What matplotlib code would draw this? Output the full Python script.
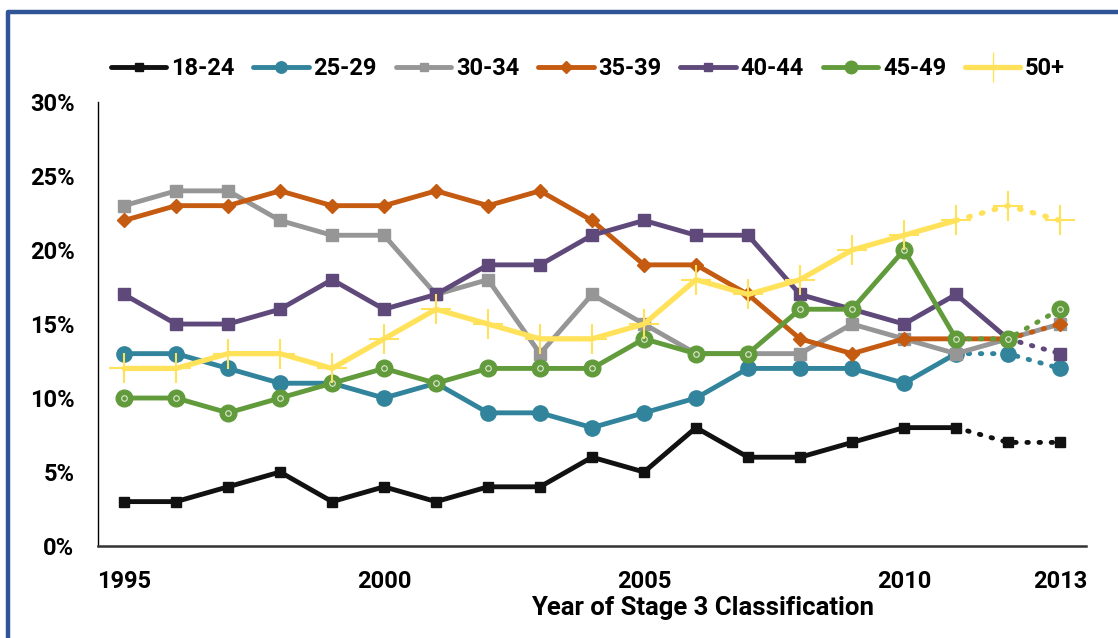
import matplotlib.pyplot as plt
from matplotlib.lines import Line2D

plt.rcParams['font.family'] = ['Roboto', 'DejaVu Sans']
plt.rcParams['font.weight'] = 'bold'

# === Data (percent of stage 3 classifications by age group) ===
years = list(range(1995, 2014))
groups = ["18-24", "25-29", "30-34", "35-39", "40-44", "45-49", "50+"]
age_18_24 = [3, 3, 4, 5, 3, 4, 3, 4, 4, 6, 5, 8, 6, 6, 7, 8, 8, 7, 7]
age_25_29 = [13, 13, 12, 11, 11, 10, 11, 9, 9, 8, 9, 10, 12, 12, 12, 11, 13, 13, 12]
age_30_34 = [23, 24, 24, 22, 21, 21, 17, 18, 13, 17, 15, 13, 13, 13, 15, 14, 13, 14, 15]
age_35_39 = [22, 23, 23, 24, 23, 23, 24, 23, 24, 22, 19, 19, 17, 14, 13, 14, 14, 14, 15]
age_40_44 = [17, 15, 15, 16, 18, 16, 17, 19, 19, 21, 22, 21, 21, 17, 16, 15, 17, 14, 13]
age_45_49 = [10, 10, 9, 10, 11, 12, 11, 12, 12, 12, 14, 13, 13, 16, 16, 20, 14, 14, 16]
age_50_plus = [12, 12, 13, 13, 12, 14, 16, 15, 14, 14, 15, 18, 17, 18, 20, 21, 22, 23, 22]
# last year drawn solid; later years are provisional (dotted)
solid_until = [2011, 2011, 2013, 2012, 2012, 2011, 2011]

series = [age_18_24, age_25_29, age_30_34, age_35_39, age_40_44, age_45_49, age_50_plus]

# === Styles ===
styles = [
    dict(color='#111111', marker='s', ms=7.5, lw=3.5),
    dict(color='#31849B', marker='o', ms=11, lw=3.5),
    dict(color='#969696', marker='s', ms=8, lw=3.5),
    dict(color='#C55A11', marker='D', ms=7.5, lw=3.5),
    dict(color='#5F497A', marker='s', ms=8, lw=3.5),
    dict(color='#629B3B', marker='o', ms=12, lw=3.5),
    dict(color='#FFE25A', marker='+', ms=22, lw=3.8),
]

fig = plt.figure(figsize=(11.18, 6.38), dpi=100)
ax = fig.add_axes([0.0877, 0.1442, 0.9714 - 0.0877, 0.840 - 0.1442])

handles = []
for name, vals, last, st in zip(groups, series, solid_until, styles):
    c = st['color']
    k = years.index(last) + 1
    mew = 1.5 if st['marker'] == '+' else 1.0
    ax.plot(years[:k], [v / 100 for v in vals[:k]], color=c, lw=st['lw'],
            marker=st['marker'], ms=st['ms'], mfc=c, mec=c, mew=mew,
            solid_capstyle='round', solid_joinstyle='round')
    if k < len(years):
        ax.plot(years[k - 1:], [v / 100 for v in vals[k - 1:]], color=c, lw=st['lw'],
                ls=(0, (0.3, 2.2)), dash_capstyle='round', marker=None)
        ax.plot(years[k:], [v / 100 for v in vals[k:]], ls='none', marker=st['marker'],
                ms=st['ms'], mfc=c, mec=c, mew=mew)
    if name == "45-49":
        # small light ring inside the green circles
        ax.plot(years, [v / 100 for v in vals], ls='none', marker='o', ms=4,
                mfc='none', mec='#dfe9d6', mew=0.8)
    handles.append(Line2D([], [], color=c, lw=st['lw'], marker=st['marker'],
                          ms=st['ms'] * (0.75 if st['marker'] != '+' else 1.0),
                          mfc=c, mec=c, mew=1.0, solid_capstyle='round'))

ax.set_xlim(1994.5, 2013.5)
ax.set_ylim(0, 0.30)
ax.set_xticks([1995, 2000, 2005, 2010, 2013])
ax.set_xticklabels(['1995', '2000', '2005', '2010', '2013'])
ax.set_yticks([0, 0.05, 0.10, 0.15, 0.20, 0.25, 0.30])
ax.set_yticklabels(['0%', '5%', '10%', '15%', '20%', '25%', '30%'])
ax.tick_params(axis='both', length=0, labelsize=17)
ax.tick_params(axis='y', pad=17)
ax.tick_params(axis='x', pad=17)
for lab in ax.get_xticklabels() + ax.get_yticklabels():
    lab.set_fontweight('bold')

ax.spines['top'].set_visible(False)
ax.spines['right'].set_visible(False)
ax.spines['left'].set_linewidth(1.0)
ax.spines['bottom'].set_linewidth(1.8)
ax.spines['bottom'].set_color('#333333')

ax.set_xlabel('Year of Stage 3 Classification', fontsize=18.5, fontweight='bold')
ax.xaxis.label.set_va('center')
ax.xaxis.set_label_coords(0.612, -0.1396)

fig.legend(handles, groups, loc='center', bbox_to_anchor=(0.526, 0.893), ncol=7,
           frameon=False, handlelength=2.35, handletextpad=0.2,
           columnspacing=0.8, prop={'weight': 'bold', 'size': 17})

# blue frame around the figure panel
frame_x = 8 / 1118
frame_y = 1 - 12 / 638
fig.add_artist(Line2D([frame_x, frame_x, 1.0], [0.0, frame_y, frame_y],
                      transform=fig.transFigure, color='#2F5597', lw=3.2,
                      solid_joinstyle='round'))

fig.savefig('out.png', dpi=100)
